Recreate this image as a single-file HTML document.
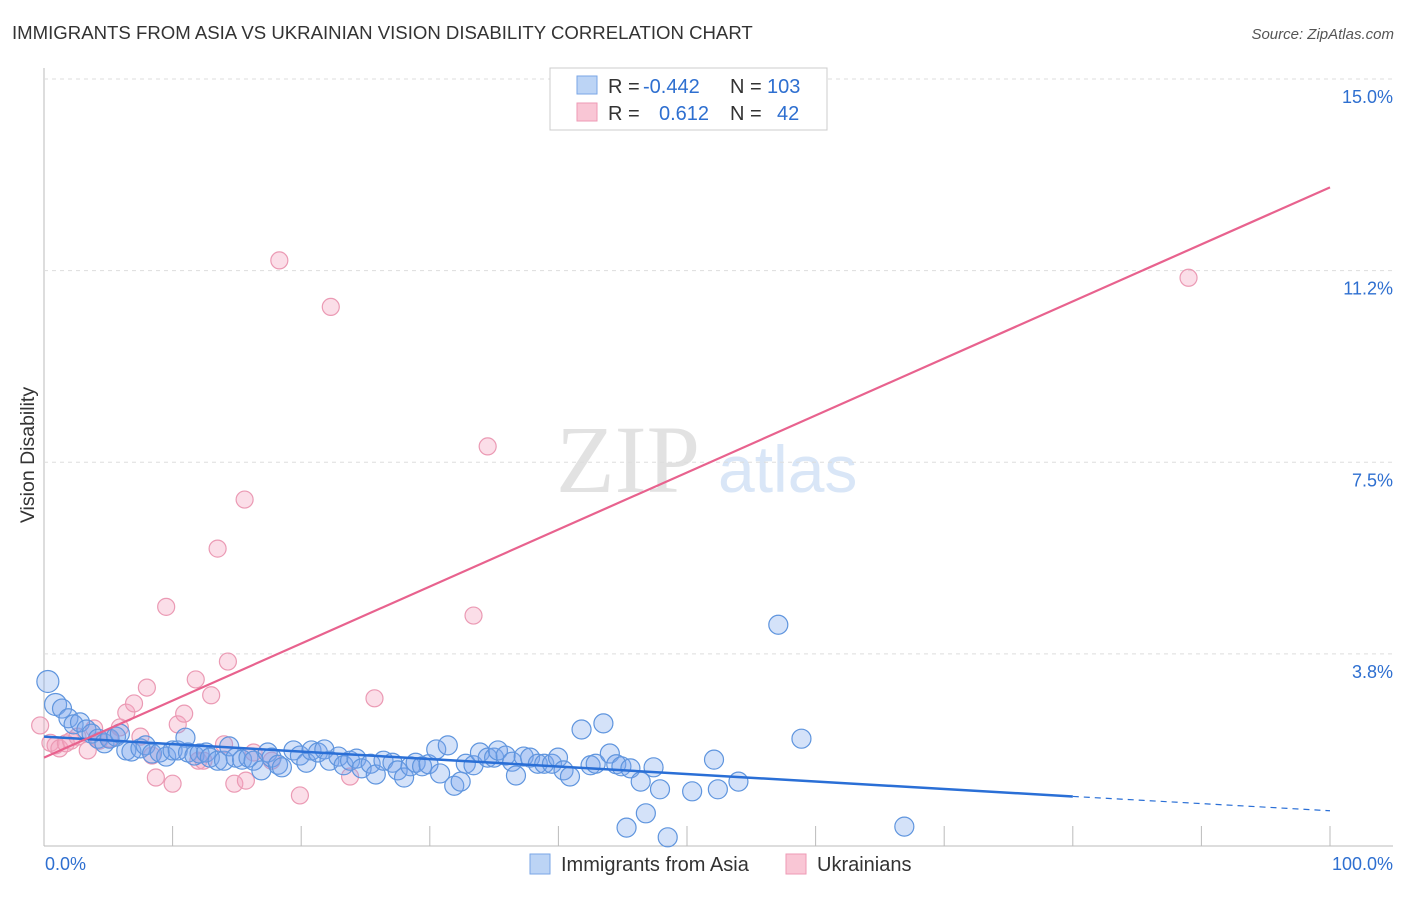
<!DOCTYPE html>
<html><head><meta charset="utf-8"><style>
body{margin:0;background:#fff;font-family:"Liberation Sans",sans-serif;}
</style></head><body>
<svg id="c" width="1406" height="892" xmlns="http://www.w3.org/2000/svg">
<text x="12" y="39" font-size="18.6" fill="#333">IMMIGRANTS FROM ASIA VS UKRAINIAN VISION DISABILITY CORRELATION CHART</text>
<text x="1394" y="39" font-size="15" fill="#555" font-style="italic" text-anchor="end">Source: ZipAtlas.com</text>
<text x="556" y="492" font-size="96" fill="#e2e2e2" font-family="Liberation Serif,serif">ZIP</text>
<text x="718" y="492" font-size="66" fill="#d9e6f7">atlas</text>
<text transform="translate(34,455) rotate(-90)" font-size="19.5" fill="#333" text-anchor="middle">Vision Disability</text>
<g id="grid"></g><g id="marks"></g>
<g>
<rect x="550" y="68" width="277" height="62" fill="#fff" stroke="#ccc"/>
<rect x="577" y="76" width="20" height="18" fill="#bcd4f5" stroke="#7aa6e6"/>
<rect x="577" y="103" width="20" height="18" fill="#f9c6d5" stroke="#ee9ab5"/>
<text y="93" font-size="20" fill="#333"><tspan x="608">R =</tspan><tspan x="643" fill="#2e6fd0">-0.442</tspan><tspan x="730">N =</tspan><tspan x="767" fill="#2e6fd0">103</tspan></text>
<text y="120" font-size="20" fill="#333"><tspan x="608">R =</tspan><tspan fill="#2e6fd0" x="659">0.612</tspan><tspan x="730">N =</tspan><tspan fill="#2e6fd0" x="777">42</tspan></text>
</g>
<g>
<rect x="530" y="854" width="20" height="20" fill="#bcd4f5" stroke="#7aa6e6"/>
<text x="561" y="871" font-size="20" fill="#333">Immigrants from Asia</text>
<rect x="786" y="854" width="20" height="20" fill="#f9c6d5" stroke="#ee9ab5"/>
<text x="817" y="871" font-size="20" fill="#333">Ukrainians</text>
</g>
</svg>
<script>
const yTicks=[3.75,7.5,11.25,15];
const yTickLabels=["3.8%","7.5%","11.2%","15.0%"];
const xTickVals=[0,10,20,30,40,50,60,70,80,90,100];
const xEndLabels=["0.0%","100.0%"];
const asiaX=[0.3,0.9,1.4,1.9,2.3,2.8,3.3,3.7,4.2,4.7,5.1,5.6,5.9,6.4,6.8,7.5,7.9,8.4,9.0,9.5,10.0,10.4,11.0,11.2,11.7,12.1,12.6,12.9,13.5,14.0,14.4,14.9,15.4,15.9,16.3,16.9,17.4,17.7,18.2,18.5,19.4,19.9,20.4,20.8,21.3,21.8,22.2,22.9,23.3,23.8,24.3,24.7,25.4,25.8,26.4,27.1,27.5,28.0,28.5,28.9,29.4,29.9,30.5,30.8,31.4,31.9,32.4,32.8,33.4,33.9,34.5,35.0,35.3,35.9,36.4,36.7,37.3,37.8,38.4,38.9,39.5,39.969,40.4,40.9,41.8,42.5,42.9,43.5,44.0,44.5,44.9,45.6,46.4,46.8,47.4,47.9,45.3,48.5,50.4,52.1,52.4,54.0,57.1,58.9,66.9];
const asiaY=[3.21,2.76,2.68,2.49,2.37,2.41,2.27,2.19,2.09,2.00,2.09,2.13,2.19,1.86,1.84,1.90,1.96,1.80,1.82,1.74,1.86,1.86,2.11,1.82,1.76,1.80,1.82,1.72,1.66,1.66,1.94,1.72,1.68,1.72,1.66,1.47,1.82,1.72,1.58,1.53,1.86,1.76,1.62,1.86,1.82,1.88,1.66,1.74,1.57,1.66,1.70,1.51,1.60,1.39,1.66,1.62,1.47,1.33,1.55,1.62,1.55,1.59,1.88,1.41,1.96,1.17,1.25,1.60,1.57,1.82,1.72,1.72,1.86,1.76,1.64,1.37,1.74,1.72,1.60,1.60,1.60,1.72,1.47,1.35,2.27,1.57,1.60,2.39,1.80,1.59,1.55,1.51,1.25,0.63,1.53,1.10,0.35,0.16,1.06,1.68,1.10,1.25,4.32,2.09,0.37];
const ukrX=[0.5,0.9,1.2,1.7,2.1,2.6,3.4,3.9,4.3,5.1,5.9,6.4,7.0,7.5,8.0,8.4,8.7,9.5,10.0,10.4,10.9,11.8,12.0,12.4,13.0,13.5,14.0,14.3,14.8,15.6,15.7,16.3,17.7,18.3,19.9,22.3,23.8,25.7,33.4,34.5,89.0,-0.3];
const ukrY=[2.01,1.96,1.90,2.00,2.05,2.13,1.86,2.29,2.05,2.09,2.31,2.60,2.78,2.13,3.09,1.76,1.33,4.67,1.21,2.37,2.58,3.25,1.66,1.66,2.94,5.81,1.98,3.60,1.21,6.77,1.27,1.82,1.66,11.45,0.98,10.54,1.35,2.88,4.50,7.81,11.11,2.35];
const trendAsiaX=[0,80,100];
const trendAsiaY=[2.13,0.96,0.68];
const trendUkrX=[0,100];
const trendUkrY=[1.72,12.88];
const X=v=>44+v*12.86, Y=v=>845.5-v*51.1;
const NS="http://www.w3.org/2000/svg";
function mk(t,a,p){const e=document.createElementNS(NS,t);for(const k in a)e.setAttribute(k,a[k]);p.appendChild(e);return e;}
const g=document.getElementById('grid'),m=document.getElementById('marks');
let l=mk('line',{x1:44,y1:68,x2:44,y2:846,stroke:'#bbb'},g);


l=mk('line',{x1:44,y1:846,x2:1393,y2:846,stroke:'#bbb'},g);


yTicks.forEach((v,i)=>{
 const gl=mk('line',{x1:44,x2:1393,y1:Y(v),y2:Y(v),stroke:'#ddd','stroke-dasharray':'4,4'},g);
 
 
 const t=mk('text',{x:1393,y:Y(v)+24,'font-size':18,fill:'#2e6fd0','text-anchor':'end'},g);
 t.textContent=yTickLabels[i];
 
 
});
xTickVals.forEach(v=>{if(v===0)return;
 const tk=mk('line',{x1:X(v),x2:X(v),y1:826,y2:846,stroke:'#bbb'},g);
 
 
});
[[0,'start',45],[100,'end',1393]].forEach((d,i)=>{
 const t=mk('text',{x:d[2],y:870,'font-size':18,fill:'#2e6fd0','text-anchor':d[1]},g);
 t.textContent=xEndLabels[i];
 
 
});
ukrX.forEach((v,i)=>{
 const c=mk('circle',{cx:X(v),cy:Y(ukrY[i]),r:8.5,fill:'rgba(244,160,188,0.35)',stroke:'#eb9ab4','stroke-width':1.2},m);
 
 
});
asiaX.forEach((v,i)=>{
 const c=mk('circle',{cx:X(v),cy:Y(asiaY[i]),r:i<2?11:9.5,fill:'rgba(120,165,235,0.32)',stroke:'#5f95de','stroke-width':1.2},m);
 
 
});
let tl=mk('line',{x1:X(trendAsiaX[0]),y1:Y(trendAsiaY[0]),x2:X(trendAsiaX[1]),y2:Y(trendAsiaY[1]),stroke:'#2a6fd6','stroke-width':2.5},m);


tl=mk('line',{x1:X(trendAsiaX[1]),y1:Y(trendAsiaY[1]),x2:X(trendAsiaX[2]),y2:Y(trendAsiaY[2]),stroke:'#2a6fd6','stroke-width':1.2,'stroke-dasharray':'6,5'},m);


tl=mk('line',{x1:X(trendUkrX[0]),y1:Y(trendUkrY[0]),x2:X(trendUkrX[1]),y2:Y(trendUkrY[1]),stroke:'#e8628e','stroke-width':2.2},m);


</script>
</body></html>
